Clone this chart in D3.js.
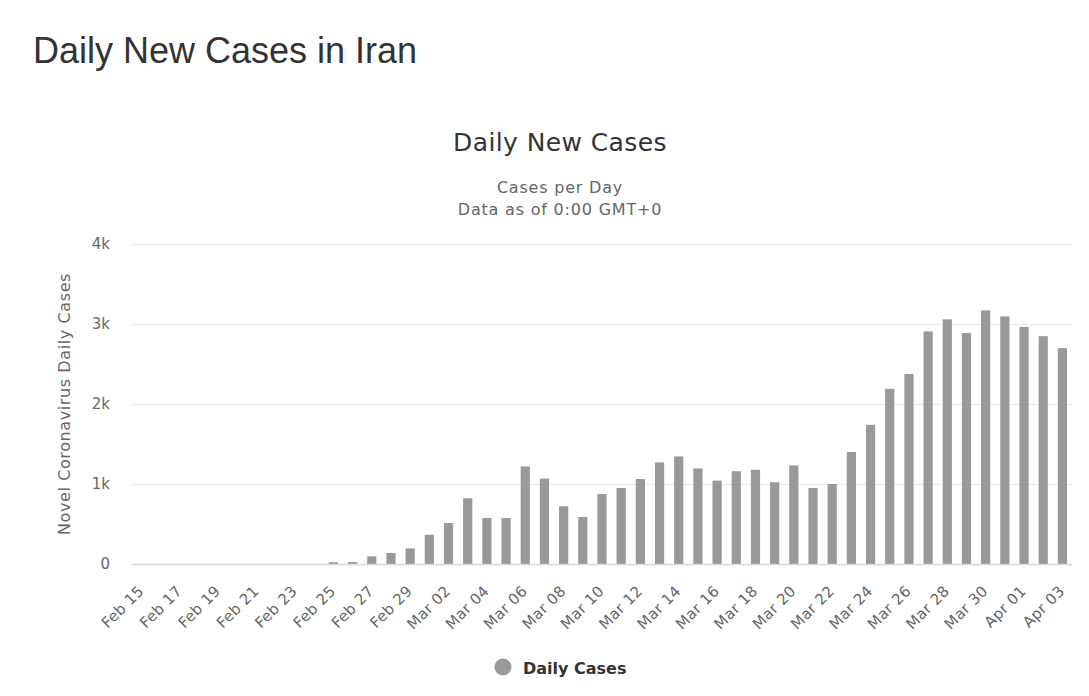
<!DOCTYPE html>
<html>
<head>
<meta charset="utf-8">
<script src="https://cdn.jsdelivr.net/npm/d3@7"></script>
<style>
  body { margin: 0; background: #fff; }
  svg { display: block; }
</style>
</head>
<body>
<div id="chart"></div>
<script>
// Days shown on the x axis
const days = [
  'Feb 15', 'Feb 16', 'Feb 17', 'Feb 18', 'Feb 19', 'Feb 20', 'Feb 21', 'Feb 22', 'Feb 23', 'Feb 24',
  'Feb 25', 'Feb 26', 'Feb 27', 'Feb 28', 'Feb 29',
  'Mar 01', 'Mar 02', 'Mar 03', 'Mar 04', 'Mar 05', 'Mar 06', 'Mar 07', 'Mar 08', 'Mar 09', 'Mar 10',
  'Mar 11', 'Mar 12', 'Mar 13', 'Mar 14', 'Mar 15', 'Mar 16', 'Mar 17', 'Mar 18', 'Mar 19', 'Mar 20',
  'Mar 21', 'Mar 22', 'Mar 23', 'Mar 24', 'Mar 25', 'Mar 26', 'Mar 27', 'Mar 28', 'Mar 29', 'Mar 30',
  'Mar 31', 'Apr 01', 'Apr 02', 'Apr 03'
];

// Daily new cases
const dailyCases = [
  0, 0, 0, 0, 0, 0, 0, 0, 0, 0,
  22, 24, 95, 138, 195,
  365, 512, 822, 575, 575, 1220, 1068, 722, 588, 875,
  950, 1062, 1270, 1345, 1195, 1042, 1160, 1178, 1022, 1232,
  950, 1000, 1400, 1740, 2190, 2375, 2908, 3058, 2888, 3170,
  3095, 2962, 2848, 2698
];

const yTicks = [0, 1000, 2000, 3000, 4000];
const yTickLabels = ['0', '1k', '2k', '3k', '4k'];

const width = 1089;
const height = 696;
const plot = { left: 132, right: 1072, top: 244, bottom: 564 };

const svg = d3.select('#chart')
  .append('svg')
  .attr('width', width)
  .attr('height', height);

const x = d3.scaleBand()
  .domain(days)
  .range([plot.left, plot.right])
  .paddingInner(0.52)
  .paddingOuter(0.26);

const y = d3.scaleLinear()
  .domain([0, 4000])
  .range([plot.bottom, plot.top]);

// Page heading
svg.append('text')
  .attr('x', 33).attr('y', 63)
  .attr('font-family', '"Liberation Sans", Arial, sans-serif')
  .attr('font-size', '36px')
  .attr('fill', '#333')
  .text('Daily New Cases in Iran');

// Chart titles
const chartFont = '"DejaVu Sans", "Lucida Grande", sans-serif';
svg.append('text')
  .attr('x', 560).attr('y', 151)
  .attr('text-anchor', 'middle')
  .attr('font-family', chartFont)
  .attr('font-size', '25px')
  .attr('letter-spacing', '0.4px')
  .attr('fill', '#333')
  .text('Daily New Cases');

svg.append('text')
  .attr('x', 560).attr('y', 193)
  .attr('text-anchor', 'middle')
  .attr('font-family', chartFont)
  .attr('font-size', '16px')
  .attr('letter-spacing', '0.8px')
  .attr('fill', '#666')
  .text('Cases per Day');

svg.append('text')
  .attr('x', 560).attr('y', 215)
  .attr('text-anchor', 'middle')
  .attr('font-family', chartFont)
  .attr('font-size', '16px')
  .attr('letter-spacing', '0.8px')
  .attr('fill', '#666')
  .text('Data as of 0:00 GMT+0');

// Gridlines + y labels
const yAxis = d3.axisLeft(y)
  .tickValues(yTicks)
  .tickSize(-(plot.right - plot.left))
  .tickPadding(22)
  .tickFormat((d, i) => yTickLabels[i]);

const yg = svg.append('g')
  .attr('transform', `translate(${plot.left},0)`)
  .call(yAxis);
yg.select('.domain').remove();
yg.selectAll('.tick line').attr('stroke', '#e6e6e6');
yg.selectAll('.tick text')
  .attr('font-family', chartFont)
  .attr('font-size', '15px')
  .attr('fill', '#666');

svg.append('text')
  .attr('transform', `translate(70,${(plot.top + plot.bottom) / 2}) rotate(-90)`)
  .attr('text-anchor', 'middle')
  .attr('font-family', chartFont)
  .attr('font-size', '16px')
  .attr('letter-spacing', '0.6px')
  .attr('fill', '#666')
  .text('Novel Coronavirus Daily Cases');

// Bars
svg.append('g')
  .selectAll('rect')
  .data(days)
  .join('rect')
  .attr('x', d => x(d))
  .attr('width', x.bandwidth())
  .attr('y', (d, i) => y(dailyCases[i]))
  .attr('height', (d, i) => y(0) - y(dailyCases[i]))
  .attr('fill', '#999');

// X axis
const xAxis = d3.axisBottom(x)
  .tickValues(days.filter((d, i) => i % 2 === 0))
  .tickSize(0)
  .tickPadding(0);

const xg = svg.append('g')
  .attr('transform', `translate(0,${plot.bottom})`)
  .call(xAxis);
xg.select('.domain').attr('stroke', '#d8d8d8').attr('stroke-width', 1.5)
  .attr('d', `M${plot.left},0.5H${plot.right}`);
xg.selectAll('.tick text')
  .attr('font-family', chartFont)
  .attr('font-size', '15px')
  .attr('letter-spacing', '0.3px')
  .attr('fill', '#666')
  .attr('text-anchor', 'end')
  .attr('dy', null)
  .attr('y', null)
  .attr('transform', 'translate(3,28) rotate(-45)');

// Legend
svg.append('circle')
  .attr('cx', 503).attr('cy', 667).attr('r', 8.5)
  .attr('fill', '#999');
svg.append('text')
  .attr('x', 523).attr('y', 674)
  .attr('font-family', chartFont)
  .attr('font-size', '16px')
  .attr('font-weight', 'bold')
  .attr('fill', '#333')
  .text('Daily Cases');
</script>
</body>
</html>
